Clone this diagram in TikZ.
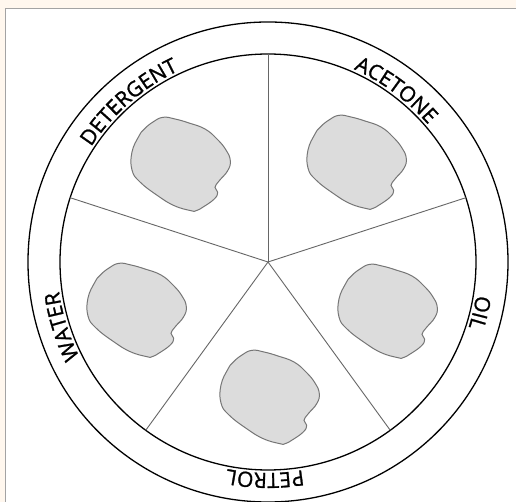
\documentclass[tikz,border=0pt]{standalone}
\usepackage{fontspec}
\newfontfamily\rimface[FakeBold=1.2]{Open Sans}
\usepackage{tikz}
\usetikzlibrary{decorations.text}

\definecolor{peach}{HTML}{FFF7EE}
\definecolor{framegray}{HTML}{A3A3A3}
\definecolor{spotfill}{HTML}{DCDCDC}
\definecolor{spotline}{HTML}{767676}

\newcommand\rimfont{\rimface\fontsize{21}{24}\selectfont}

\begin{document}
\begin{tikzpicture}[x=1pt, y=1pt,
    rim/.style={draw=black, line width=1.3pt},
    spoke/.style={draw=black!60, line width=0.9pt},
    spot/.style={fill=spotfill, draw=spotline, line width=1pt},
    rimtext/.style={decorate, decoration={text along path, text align=center, text={|\rimfont|#1}}}]

            \useasboundingbox (-268,-240) rectangle (248,262);
            \fill[peach] (-268,-240) rectangle (248,262);
            \fill[white] (-262,253) rectangle (252,-244);
            \draw[framegray, line width=1pt] (-262,-244) |- (252,253);

            \coordinate (hub) at (0,0);

            \draw[rim] (hub) circle[radius=240pt]; %outer
            \draw[rim] (hub) circle[radius=208pt]; %inner

            \foreach \a in {90,18,-54,-126,162}
                \draw[spoke] (hub) -- (\a:208pt);

            % spots
            \foreach \x/\y in {-87/98, 89/100, -131/-48, 120/-49, 2/-135}
                \draw[spot, shift={(\x,\y)}] plot[smooth cycle, tension=0.75] coordinates {
                    (-42,28) (-49,12) (-49,-6) (-41,-18) (-23.3,-31.7)
                    (-6.7,-41.7) (10,-46.7) (15,-46.7) (21.7,-43.3) (33.3,-35)
                    (36.7,-28.3) (34,-23.3) (38.3,-16.7) (46.7,-6.7) (49.3,3.3)
                    (45,14) (36,25) (24,35) (8,41) (-6,45)
                    (-18,46.7) (-28,42) (-36.7,35)};

            % rim labels
            \path[rimtext=DETERGENT] (171:211pt) arc[start angle=171, end angle=91, radius=211pt];
            \path[rimtext=ACETONE] (93.3:211pt) arc[start angle=93.3, end angle=13.3, radius=211pt];
            \path[rimtext=OIL] (26.5:211pt) arc[start angle=26.5, end angle=-53.5, radius=211pt];
            \path[rimtext=PETROL] (-50.8:211pt) arc[start angle=-50.8, end angle=-130.8, radius=211pt];
            \path[rimtext=WATER] (237.4:211pt) arc[start angle=237.4, end angle=157.4, radius=211pt];

        \end{tikzpicture}
\end{document}
